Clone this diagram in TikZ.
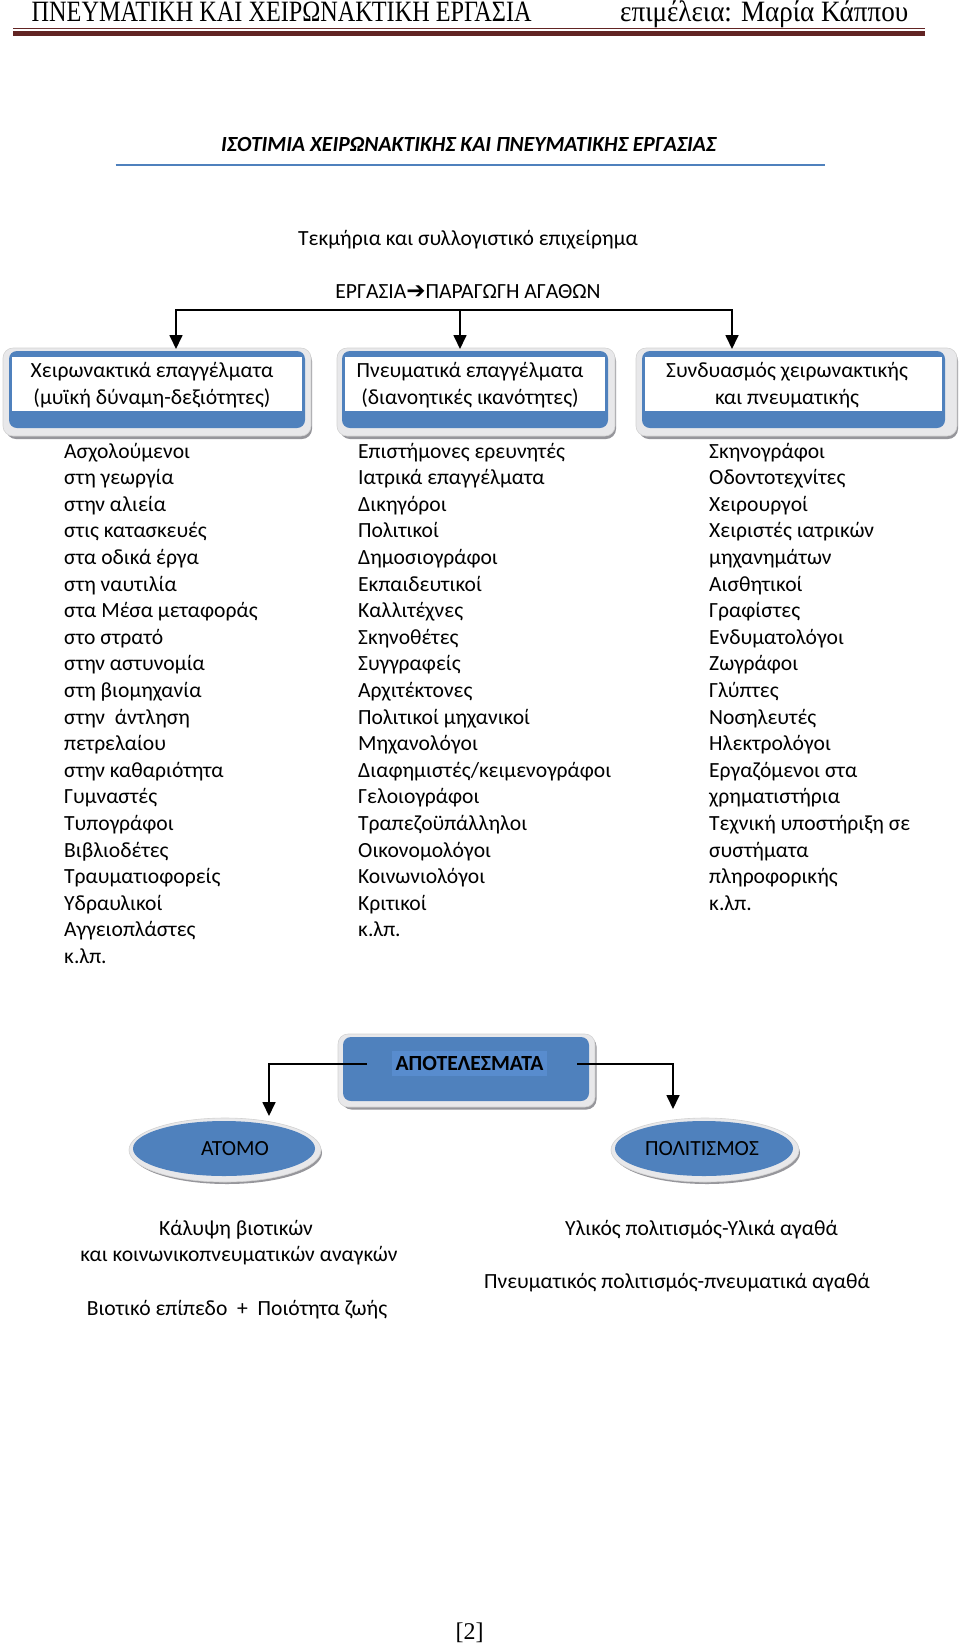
\documentclass[tikz,border=0pt]{standalone}
\usepackage{fontspec}
\usepackage{graphicx}
\setmainfont{Carlito}
\newfontfamily\headserif{Liberation Serif}
\newfontfamily\dejavu{DejaVu Sans}
\usetikzlibrary{arrows.meta,shapes.geometric}
\definecolor{offblue}{RGB}{79,129,189}
\definecolor{hlblue}{RGB}{88,140,206}
\definecolor{hdrred}{RGB}{98,36,35}
\definecolor{bevelgray}{RGB}{232,232,234}
\definecolor{shadowgray}{RGB}{150,150,155}
\begin{document}
\begin{tikzpicture}[x=1pt,y=-1pt,
  txt/.style={font=\fontsize{21.6}{26.6}\selectfont, inner sep=0pt, text=black},
  arr/.style={line width=1.7pt, -{Triangle[width=13pt,length=14pt]}},
  conn/.style={line width=1.7pt},
  shadowbox/.style={rounded corners=10pt, fill=shadowgray, draw=none, inner sep=0pt},
  bevelbox/.style={rounded corners=10pt, fill=bevelgray, draw=gray!35, line width=0.6pt, inner sep=0pt},
  bluebox/.style={rounded corners=8pt, fill=offblue, draw=none, inner sep=0pt},
  whitebox/.style={rectangle, fill=white, draw=none, inner sep=0pt},
  shadowell/.style={ellipse, fill=shadowgray, draw=none, inner sep=0pt},
  bevelell/.style={ellipse, fill=bevelgray, draw=gray!35, line width=0.6pt, inner sep=0pt},
  blueell/.style={ellipse, fill=offblue, draw=none, inner sep=0pt}
]
\useasboundingbox[fill=white] (0,0) rectangle (960,1647);

% ---------- header ----------
\node[anchor=base west, inner sep=0pt] (hdrL) at (31.5,21)
  {\resizebox{500pt}{\height}{\fontsize{29.5}{32}\headserif ΠΝΕΥΜΑΤΙΚΗ ΚΑΙ ΧΕΙΡΩΝΑΚΤΙΚΗ ΕΡΓΑΣΙΑ}};
\node[anchor=base west, inner sep=0pt] (hdrR) at (620,21)
  {\resizebox{288pt}{\height}{\fontsize{29.5}{32}\headserif επιμέλεια: Μαρία Κάππου}};
\fill[hdrred] (12.5,27.8) rectangle (925,29);
\fill[hdrred] (12.5,30.5) rectangle (925,36);

% ---------- title ----------
\node[txt, anchor=base] (title) at (469,151)
  {\textbf{\textit{ΙΣΟΤΙΜΙΑ ΧΕΙΡΩΝΑΚΤΙΚΗΣ ΚΑΙ ΠΝΕΥΜΑΤΙΚΗΣ ΕΡΓΑΣΙΑΣ}}};
\draw[offblue, line width=1.5pt] (115.5,165) -- (824.5,165);

\node[txt, anchor=base] (tekm) at (468,245) {Τεκμήρια και συλλογιστικό επιχείρημα};
\node[txt, anchor=base] (erg) at (468,298) {ΕΡΓΑΣΙΑ{\dejavu\fontsize{23}{24}\selectfont ➔}ΠΑΡΑΓΩΓΗ ΑΓΑΘΩΝ};

% ---------- three boxes ----------
% box 1
\node[shadowbox, minimum width=306pt, minimum height=88pt] (b1s) at (159,395) {};
\node[bevelbox, minimum width=308pt, minimum height=88pt] (b1g) at (157,392) {};
\node[bluebox, minimum width=296pt, minimum height=77pt] (b1) at (157,389.5) {};
\node[whitebox, minimum width=290pt, minimum height=54pt] (b1w) at (157,384) {};
\node[txt, align=center, anchor=base] (b1t) at (152,404)
  {Χειρωνακτικά επαγγέλματα\\(μυϊκή δύναμη-δεξιότητες)};
% box 2
\node[shadowbox, minimum width=276pt, minimum height=88pt] (b2s) at (478,395) {};
\node[bevelbox, minimum width=278pt, minimum height=88pt] (b2g) at (476,392) {};
\node[bluebox, minimum width=266pt, minimum height=77pt] (b2) at (475,389.5) {};
\node[whitebox, minimum width=260pt, minimum height=54pt] (b2w) at (475,384) {};
\node[txt, align=center, anchor=base] (b2t) at (470,404)
  {Πνευματικά επαγγέλματα\\(διανοητικές ικανότητες)};
% box 3
\node[shadowbox, minimum width=319pt, minimum height=88pt] (b3s) at (798.5,395) {};
\node[bevelbox, minimum width=321pt, minimum height=88pt] (b3g) at (796.5,392) {};
\node[bluebox, minimum width=303pt, minimum height=77pt] (b3) at (793.5,389.5) {};
\node[whitebox, minimum width=297pt, minimum height=54pt] (b3w) at (793.5,384) {};
\node[txt, align=center, anchor=base] (b3t) at (787,404)
  {Συνδυασμός χειρωνακτικής\\και πνευματικής};

% connectors to boxes
\coordinate (hub) at (460,310);
\coordinate (a1) at (176,349);
\coordinate (a2) at (460,349);
\coordinate (a3) at (732,349);
\draw[conn] (176,310) -- (732,310);
\draw[arr] (hub) -| (a1);
\draw[arr] (hub) -- (a2);
\draw[arr] (hub) -| (a3);

% ---------- lists ----------
\foreach \t [count=\i] in {Ασχολούμενοι, στη γεωργία, στην αλιεία, στις κατασκευές,
  στα οδικά έργα, στη ναυτιλία, στα Μέσα μεταφοράς, στο στρατό, στην αστυνομία,
  στη βιομηχανία, στην\ \ άντληση, πετρελαίου, στην καθαριότητα, Γυμναστές,
  Τυπογράφοι, Βιβλιοδέτες, Τραυματιοφορείς, Υδραυλικοί, Αγγειοπλάστες, κ.λπ.}
  \node[txt, anchor=base west] (l1-\i) at (64,{458+26.6*(\i-1)}) {\t};

\foreach \t [count=\i] in {Επιστήμονες ερευνητές, Ιατρικά επαγγέλματα, Δικηγόροι,
  Πολιτικοί, Δημοσιογράφοι, Εκπαιδευτικοί, Καλλιτέχνες, Σκηνοθέτες, Συγγραφείς,
  Αρχιτέκτονες, Πολιτικοί μηχανικοί, Μηχανολόγοι, Διαφημιστές/κειμενογράφοι,
  Γελοιογράφοι, Τραπεζοϋπάλληλοι, Οικονομολόγοι, Κοινωνιολόγοι, Κριτικοί, κ.λπ.}
  \node[txt, anchor=base west] (l2-\i) at (358,{458+26.6*(\i-1)}) {\t};

\foreach \t [count=\i] in {Σκηνογράφοι, Οδοντοτεχνίτες, Χειρουργοί, Χειριστές ιατρικών,
  μηχανημάτων, Αισθητικοί, Γραφίστες, Ενδυματολόγοι, Ζωγράφοι, Γλύπτες, Νοσηλευτές,
  Ηλεκτρολόγοι, Εργαζόμενοι στα, χρηματιστήρια, Τεχνική υποστήριξη σε, συστήματα,
  πληροφορικής, κ.λπ.}
  \node[txt, anchor=base west] (l3-\i) at (709,{458+26.6*(\i-1)}) {\t};

% ---------- results ----------
\node[shadowbox, minimum width=255pt, minimum height=73pt] (rs) at (469,1073) {};
\node[bevelbox, minimum width=257pt, minimum height=73pt] (rg) at (466.5,1070.5) {};
\node[bluebox, minimum width=246pt, minimum height=64pt] (res) at (466,1069) {};
\fill[hlblue] (392,1051) rectangle (547,1076);
\node[txt, anchor=base] (rest) at (469.5,1070) {\textbf{ΑΠΟΤΕΛΕΣΜΑΤΑ}};

% ellipses
\node[shadowell, minimum width=190pt, minimum height=62pt] (atoms) at (227,1153) {};
\node[bevelell, minimum width=192pt, minimum height=64pt] (atomg) at (225,1150) {};
\node[blueell, minimum width=182pt, minimum height=55pt] (atom) at (224,1148.5) {};
\node[txt, anchor=base] (atomt) at (235,1155) {ΑΤΟΜΟ};

\node[shadowell, minimum width=186pt, minimum height=62pt] (pols) at (707,1153) {};
\node[bevelell, minimum width=188pt, minimum height=64pt] (polg) at (705,1150) {};
\node[blueell, minimum width=178pt, minimum height=55pt] (pol) at (704,1148.5) {};
\node[txt, anchor=base] (polt) at (702,1155) {ΠΟΛΙΤΙΣΜΟΣ};

\coordinate (rl) at (367,1064);
\coordinate (rr) at (577,1064);
\coordinate (atomtop) at (269,1116);
\coordinate (poltop) at (673,1109);
\draw[arr] (rl) -| (atomtop);
\draw[arr] (rr) -| (poltop);

% bottom texts
\node[txt, anchor=base] (k1) at (236,1235) {Κάλυψη βιοτικών};
\node[txt, anchor=base] (k2) at (239,1261) {και κοινωνικοπνευματικών αναγκών};
\node[txt, anchor=base] (k3) at (237,1315) {Βιοτικό επίπεδο\ \ +\ \ Ποιότητα ζωής};
\node[txt, anchor=base] (p1) at (701.5,1235) {Υλικός πολιτισμός-Υλικά αγαθά};
\node[txt, anchor=base] (p2) at (677,1288) {Πνευματικός πολιτισμός-πνευματικά αγαθά};

\node[anchor=base, inner sep=0pt] (pg) at (469.5,1639) {\fontsize{24}{26}\headserif [2]};
\end{tikzpicture}
\end{document}
